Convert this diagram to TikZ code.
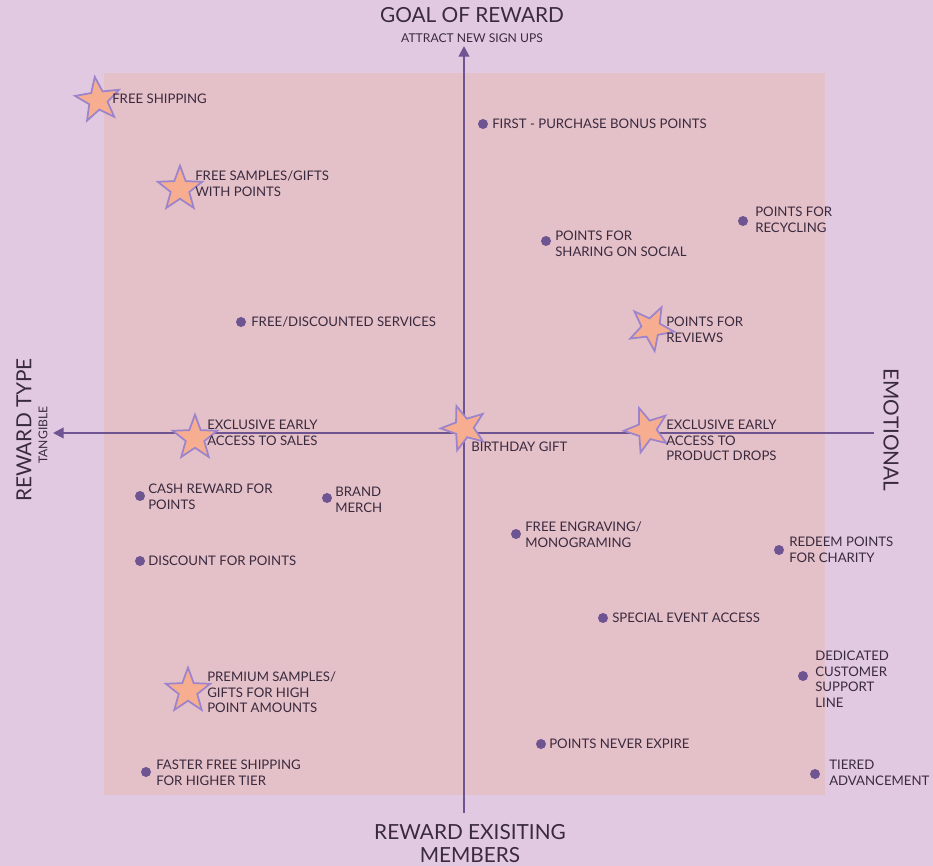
\documentclass[tikz,border=0pt]{standalone}
\usepackage{fontspec}
\setmainfont{Lato}
\usetikzlibrary{shapes.geometric,arrows.meta}
\definecolor{bgc}{HTML}{E2C9E2}
\definecolor{panel}{HTML}{E4C0C8}
\definecolor{axisc}{HTML}{6E5490}
\definecolor{txt}{HTML}{3A2A3E}
\definecolor{starfill}{HTML}{F7AE90}
\definecolor{stardraw}{HTML}{9B84CC}
\begin{document}
\begin{tikzpicture}[x=0.75pt,y=-0.75pt,
  axisline/.style={draw=axisc,line width=1.5pt},
  dotn/.style={circle,fill=axisc,inner sep=0pt,minimum size=7.5pt},
  starn/.style={star,star points=5,star point ratio=2.4,minimum size=35pt,inner sep=0pt,fill=starfill,draw=stardraw,line width=1.3pt},
  lbl/.style={font=\fontsize{9.9}{11.6}\selectfont,text=txt,inner sep=0pt,align=left,anchor=north west},
  big/.style={font=\fontsize{15.6}{17.3}\selectfont,text=txt,inner sep=0pt,align=center},
  small/.style={font=\fontsize{9.1}{10}\selectfont,text=txt,inner sep=0pt}]
\fill[bgc] (0,0) rectangle (933,866);
\useasboundingbox (0,0) rectangle (933,866);
\fill[panel] (104,73) rectangle (825,795);
% axes
\coordinate (vtop) at (464,46);
\coordinate (vbot) at (464,813);
\coordinate (hleft) at (53,433);
\coordinate (hright) at (874,433);
\draw[axisline,-{Triangle[length=8pt,width=8pt]}] (vbot) -- (vtop);
\draw[axisline,-{Triangle[length=8pt,width=8pt]}] (hright) -- (hleft);
% axis titles
\node[big] (ttop) at (472,15) {GOAL OF REWARD};
\node[small] (ttopsub) at (472,38) {ATTRACT NEW SIGN UPS};
\node[big,rotate=90] (tleft) at (24,430) {REWARD TYPE};
\node[small,rotate=90] (tleftsub) at (43,435) {TANGIBLE};
\node[big,rotate=-90] (tright) at (891,430) {EMOTIONAL};
\node[big] (tbot) at (470,843.5) {REWARD EXISITING\\MEMBERS};
% stars
\node[starn,rotate=8] (s1) at (98,100) {};
\node[starn] (s2) at (180,189) {};
\node[starn] (s3) at (195,438) {};
\node[starn,rotate=19] (s4) at (464,428) {};
\node[starn,rotate=-27] (s5) at (651,328) {};
\node[starn,rotate=20] (s6) at (647,430) {};
\node[starn] (s7) at (188,691) {};
% dots
\node[dotn] (d1) at (483,124) {};
\node[dotn] (d2) at (546,241) {};
\node[dotn] (d3) at (743,221) {};
\node[dotn] (d4) at (241,322) {};
\node[dotn] (d5) at (140,496) {};
\node[dotn] (d6) at (327,498) {};
\node[dotn] (d7) at (140,561) {};
\node[dotn] (d8) at (516,534) {};
\node[dotn] (d9) at (779,550) {};
\node[dotn] (d10) at (603,618) {};
\node[dotn] (d11) at (803,676) {};
\node[dotn] (d12) at (541,744) {};
\node[dotn] (d13) at (146,772) {};
\node[dotn] (d14) at (815,774) {};
% star labels
\node[lbl] (l1) at (112,94) {FREE SHIPPING};
\node[lbl] (l2) at (195,171) {FREE SAMPLES/GIFTS\\WITH POINTS};
\node[lbl] (l3) at (207,420) {EXCLUSIVE EARLY\\ACCESS TO SALES};
\node[lbl] (l4) at (471,442) {BIRTHDAY GIFT};
\node[lbl] (l5) at (666,317) {POINTS FOR\\REVIEWS};
\node[lbl] (l6) at (666,420) {EXCLUSIVE EARLY\\ACCESS TO\\PRODUCT DROPS};
\node[lbl] (l7) at (207,672) {PREMIUM SAMPLES/\\GIFTS FOR HIGH\\POINT AMOUNTS};
% dot labels
\node[lbl] (m1) at (492,119) {FIRST - PURCHASE BONUS POINTS};
\node[lbl] (m2) at (555,231) {POINTS FOR\\SHARING ON SOCIAL};
\node[lbl] (m3) at (755,207) {POINTS FOR\\RECYCLING};
\node[lbl] (m4) at (251,317) {FREE/DISCOUNTED SERVICES};
\node[lbl] (m5) at (148,484) {CASH REWARD FOR\\POINTS};
\node[lbl] (m6) at (335,487) {BRAND\\MERCH};
\node[lbl] (m7) at (148,556) {DISCOUNT FOR POINTS};
\node[lbl] (m8) at (525,522) {FREE ENGRAVING/\\MONOGRAMING};
\node[lbl] (m9) at (789,537) {REDEEM POINTS\\FOR CHARITY};
\node[lbl] (m10) at (612,613) {SPECIAL EVENT ACCESS};
\node[lbl] (m11) at (815,651) {DEDICATED\\CUSTOMER\\SUPPORT\\LINE};
\node[lbl] (m12) at (549,739) {POINTS NEVER EXPIRE};
\node[lbl] (m13) at (156,760) {FASTER FREE SHIPPING\\FOR HIGHER TIER};
\node[lbl] (m14) at (829,760) {TIERED\\ADVANCEMENT};
\end{tikzpicture}
\end{document}
